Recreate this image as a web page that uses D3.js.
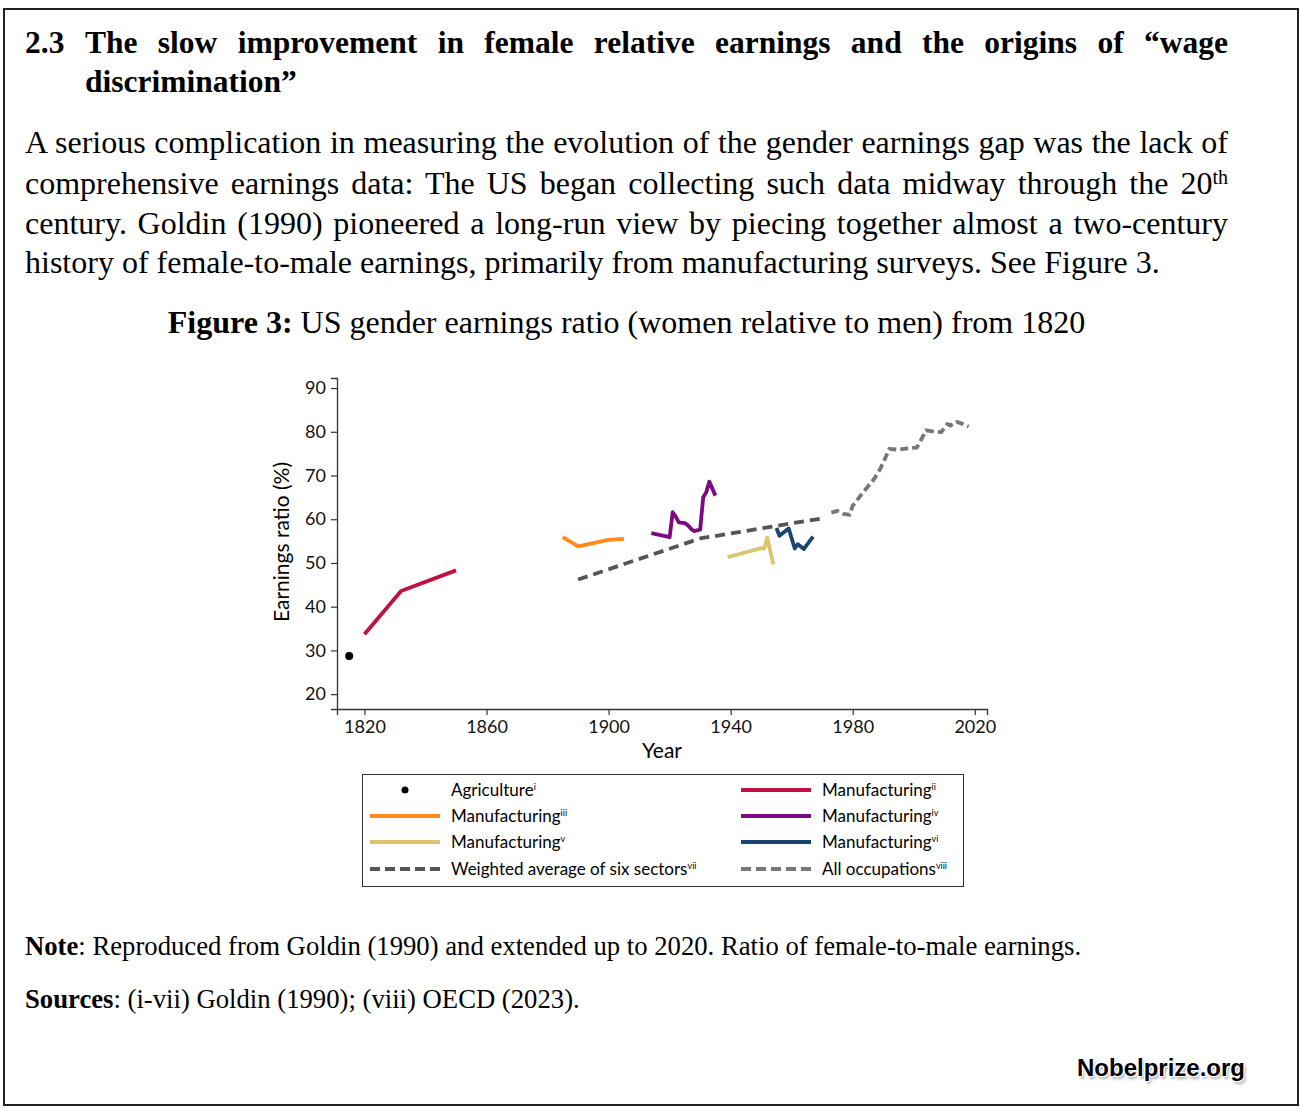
<!DOCTYPE html>
<html>
<head>
<meta charset="utf-8">
<script src="https://cdn.jsdelivr.net/npm/d3@7"></script>
<style>
  body { margin: 0; background: #fff; }
  #page { position: relative; width: 1300px; height: 1108px; overflow: hidden; font-family: "Liberation Serif", "Times New Roman", serif; color: #000; }
  #frame { position: absolute; left: 3px; top: 8px; width: 1292px; height: 1094px; border: 2px solid #222; }
  .line { position: absolute; white-space: nowrap; text-align: justify; text-align-last: justify; line-height: normal; }
  .last { text-align-last: left; }
  .title { font-weight: bold; font-size: 31.5px; }
  .para { font-size: 32px; left: 25px; width: 1203px; }
  .para sup { font-size: 20px; line-height: 0; vertical-align: 0.5em; }
  .caption { font-size: 32px; left: 0; width: 1253px; text-align: center; text-align-last: center; }
  .note { font-size: 26.7px; left: 25px; }
  #logo { position: absolute; left: 1077px; top: 1054px; font-family: "Liberation Sans", Arial, sans-serif; font-weight: bold; font-size: 24px;
          text-shadow: 1px 1px 0 #fff, -1px -1px 0 #fff, 1px -1px 0 #fff, -1px 1px 0 #fff, 2px 3px 3px rgba(0,0,0,0.35); }
  svg { position: absolute; left: 0; top: 0; }
</style>
</head>
<body>
<div id="page">
  <div id="frame"></div>

  <div class="line title" style="left:25px; top:25px;">2.3</div>
  <div class="line title" style="left:85px; top:25px; width:1143px;">The slow improvement in female relative earnings and the origins of “wage</div>
  <div class="line title last" style="left:85px; top:64px;">discrimination”</div>

  <div class="line para" style="top:124px;">A serious complication in measuring the evolution of the gender earnings gap was the lack of</div>
  <div class="line para" style="top:165px;">comprehensive earnings data: The US began collecting such data midway through the 20<sup>th</sup></div>
  <div class="line para" style="top:205px;">century. Goldin (1990) pioneered a long-run view by piecing together almost a two-century</div>
  <div class="line para last" style="top:244px;">history of female-to-male earnings, primarily from manufacturing surveys. See Figure 3.</div>

  <div class="line caption" style="top:304px;"><b>Figure 3:</b> US gender earnings ratio (women relative to men) from 1820</div>

  <div class="line note" style="top:931px;"><b>Note</b>: Reproduced from Goldin (1990) and extended up to 2020. Ratio of female-to-male earnings.</div>
  <div class="line note" style="top:984px;"><b>Sources</b>: (i-vii) Goldin (1990); (viii) OECD (2023).</div>

  <div id="logo">Nobelprize.org</div>
  <div id="chart"></div>
</div>

<script>
// values (ratio in %)
var agriYears = [1815];
var agriVals = [28.7];

var mfg2Years = [1820, 1832, 1850];
var mfg2Vals = [33.7, 43.6, 48.3];

var mfg3Years = [1885, 1890, 1900, 1905];
var mfg3Vals = [55.9, 53.8, 55.3, 55.5];

var mfg4Years = [1914, 1920, 1921, 1922, 1923, 1925, 1926, 1927, 1928, 1930, 1931, 1932, 1933, 1935];
var mfg4Vals = [56.8, 55.9, 61.6, 60.6, 59.3, 59.1, 58.6, 57.8, 57.3, 57.6, 65.0, 66.2, 68.6, 65.4];

var mfg5Years = [1939, 1950, 1951, 1952, 1953, 1954];
var mfg5Vals = [51.3, 53.4, 53.3, 55.8, 52.6, 49.7];

var mfg6Years = [1955, 1956, 1959, 1961, 1962, 1964, 1967];
var mfg6Vals = [58.0, 56.2, 57.9, 53.3, 54.3, 53.2, 56.0];

var avgYears = [1890, 1930, 1970];
var avgVals = [46.2, 55.6, 60.2];

var occYears = [1973, 1975, 1977, 1979, 1980, 1983, 1987, 1989, 1991, 1992, 1995, 1998, 2001, 2002, 2004, 2007, 2009, 2011, 2012, 2014, 2016, 2018];
var occVals = [61.5, 61.9, 61.2, 61.0, 63.1, 65.8, 69.2, 71.5, 74.5, 76.1, 75.9, 76.2, 76.4, 77.6, 80.3, 80.0, 79.9, 81.8, 81.4, 82.3, 81.8, 81.2];

var xTicks = [1820, 1860, 1900, 1940, 1980, 2020];
var yTicks = [20, 30, 40, 50, 60, 70, 80, 90];

var series = [
  {label: 'Agriculture', sup: 'i', years: agriYears, vals: agriVals, color: '#000', dot: true},
  {label: 'Manufacturing', sup: 'ii', years: mfg2Years, vals: mfg2Vals, color: '#c01240'},
  {label: 'Manufacturing', sup: 'iii', years: mfg3Years, vals: mfg3Vals, color: '#ff8a1c'},
  {label: 'Manufacturing', sup: 'iv', years: mfg4Years, vals: mfg4Vals, color: '#7d0a80'},
  {label: 'Manufacturing', sup: 'v', years: mfg5Years, vals: mfg5Vals, color: '#dcc46e'},
  {label: 'Manufacturing', sup: 'vi', years: mfg6Years, vals: mfg6Vals, color: '#1c4470'},
  {label: 'Weighted average of six sectors', sup: 'vii', years: avgYears, vals: avgVals, color: '#555', dash: '10,6'},
  {label: 'All occupations', sup: 'viii', years: occYears, vals: occVals, color: '#777', dash: '8,4'}
];

var svg = d3.select('#chart').append('svg')
    .attr('width', 1300)
    .attr('height', 1108);

var x = d3.scaleLinear().domain([1811, 2024]).range([337, 987]);
var y = d3.scaleLinear().domain([16.6, 92.3]).range([709, 378]);

var axisFont = 'Lato, "Open Sans", sans-serif';

var gx = svg.append('g')
    .attr('transform', 'translate(0,709)')
    .call(d3.axisBottom(x).tickValues(xTicks).tickFormat(d3.format('d')).tickSizeOuter(0).tickSize(6).tickPadding(5));
var gy = svg.append('g')
    .attr('transform', 'translate(337,0)')
    .call(d3.axisLeft(y).tickValues(yTicks).tickSizeOuter(0).tickSize(6).tickPadding(5));

[gx, gy].forEach(function (g) {
  g.select('.domain').attr('stroke', '#333').attr('stroke-width', 1.3);
  g.selectAll('.tick line').attr('stroke', '#333').attr('stroke-width', 1.2);
  g.selectAll('.tick text').attr('fill', '#111').style('font-family', axisFont).style('font-size', '18px');
});

svg.append('text')
    .attr('x', 662).attr('y', 758)
    .attr('text-anchor', 'middle')
    .style('font-family', axisFont).style('font-size', '21px')
    .text('Year');

svg.append('text')
    .attr('transform', 'translate(289,542) rotate(-90)')
    .attr('text-anchor', 'middle')
    .style('font-family', axisFont).style('font-size', '21px')
    .text('Earnings ratio (%)');

var line = d3.line()
    .x(function (d) { return x(d[0]); })
    .y(function (d) { return y(d[1]); });

series.forEach(function (s) {
  var pts = s.years.map(function (yr, i) { return [yr, s.vals[i]]; });
  if (s.dot) {
    svg.selectAll(null).data(pts).enter().append('circle')
        .attr('cx', function (d) { return x(d[0]); })
        .attr('cy', function (d) { return y(d[1]); })
        .attr('r', 4)
        .attr('fill', s.color);
  } else {
    svg.append('path')
        .datum(pts)
        .attr('d', line)
        .attr('fill', 'none')
        .attr('stroke', s.color)
        .attr('stroke-width', 3.8)
        .attr('stroke-linejoin', 'round')
        .attr('stroke-dasharray', s.dash || null);
  }
});

// legend
var leg = svg.append('g');
leg.append('rect')
    .attr('x', 362.5).attr('y', 774.5)
    .attr('width', 601).attr('height', 112)
    .attr('fill', '#fff').attr('stroke', '#333').attr('stroke-width', 1);

var rowY = [790, 816, 842, 869];
series.forEach(function (s, i) {
  var col = i % 2, row = Math.floor(i / 2);
  var x0 = col ? 741 : 370, ty = rowY[row];
  var item = leg.append('g');
  if (s.dot) {
    item.append('circle').attr('cx', x0 + 35).attr('cy', ty).attr('r', 3.5).attr('fill', s.color);
  } else {
    item.append('line')
        .attr('x1', x0).attr('x2', x0 + 70)
        .attr('y1', ty).attr('y2', ty)
        .attr('stroke', s.color).attr('stroke-width', 3.8)
        .attr('stroke-dasharray', s.dash ? '10,5' : null);
  }
  var t = item.append('text')
      .attr('x', x0 + 81).attr('y', ty + 6)
      .style('font-family', axisFont).style('font-size', '17px')
      .text(s.label);
  t.append('tspan')
      .attr('dy', -6)
      .style('font-size', '9px')
      .text(s.sup);
});
</script>
</body>
</html>
